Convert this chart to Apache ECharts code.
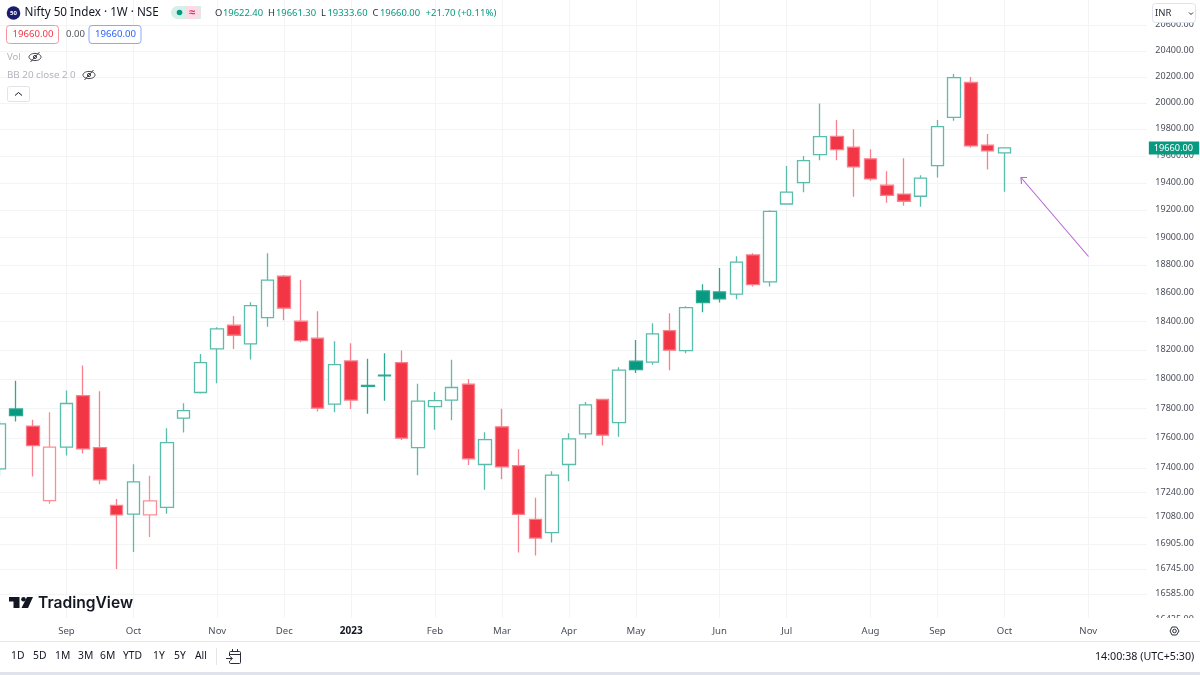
<!DOCTYPE html>
<html>
<head>
<meta charset="utf-8">
<style>html,body{margin:0;padding:0;background:#fff}#c{width:1200px;height:675px}</style>
<script src="https://cdn.jsdelivr.net/npm/echarts@6/dist/echarts.min.js"></script>
</head>
<body>
<div id="c"></div>
<script>
const weeks = ['2022-08-08','2022-08-15','2022-08-22','2022-08-29','2022-09-05','2022-09-12','2022-09-19','2022-09-26','2022-10-03','2022-10-10','2022-10-17','2022-10-24','2022-10-31','2022-11-07','2022-11-14','2022-11-21','2022-11-28','2022-12-05','2022-12-12','2022-12-19','2022-12-26','2023-01-02','2023-01-09','2023-01-16','2023-01-23','2023-01-30','2023-02-06','2023-02-13','2023-02-20','2023-02-27','2023-03-06','2023-03-13','2023-03-20','2023-03-27','2023-04-03','2023-04-10','2023-04-17','2023-04-24','2023-05-01','2023-05-08','2023-05-15','2023-05-22','2023-05-29','2023-06-05','2023-06-12','2023-06-19','2023-06-26','2023-07-03','2023-07-10','2023-07-17','2023-07-24','2023-07-31','2023-08-07','2023-08-14','2023-08-21','2023-08-28','2023-09-04','2023-09-11','2023-09-18','2023-09-25','2023-10-02','2023-10-09','2023-10-16','2023-10-23','2023-10-30','2023-11-06','2023-11-13','2023-11-20','2023-11-27'];
const opens  = [17396,17798,17682,17187,17541,17889,17538,17156,17099,17093,17143,17736,17910,18210,18375,18245,18428,18722,18403,18284,17831,18127,17958,18029,18115,17538,17814,17858,17967,17425,17677,17418,17064,16979,17425,17629,17862,17706,18125,18118,18337,18198,18617,18610,18594,18874,18681,19244,19401,19610,19747,19665,19578,19382,19317,19301,19528,19890,20156,19680,19622.4];
const closes = [17697,17753,17551,17541,17835,17529,17323,17093,17310,17185,17571,17787,18115,18349,18305,18513,18693,18495,18268,17803,18101,17858,17952,18024,17601,17851,17855,17944,17463,17591,17409,17097,16943,17355,17596,17825,17621,18063,18067,18314,18201,18499,18534,18560,18822,18662,19190,19331,19565,19745,19647,19518,19429,19308,19264,19434,19820,20194,19675,19637,19660];
const lows   = [17350,17713,17346,17167,17485,17498,17294,16744,16853,16950,17101,17639,17903,17973,18210,18136,18365,18410,18256,17780,17776,17797,17765,17853,17589,17353,17657,17722,17421,17258,17327,16851,16831,16915,17314,17598,17551,17611,18044,18101,18063,18180,18466,18534,18558,18648,18648,19239,19331,19568,19568,19298,19416,19254,19232,19224,19439,19865,19662,19498,19333.6];
const highs  = [17720,17991,17724,17776,17923,18095,17919,17198,17427,17351,17668,17837,18175,18361,18440,18537,18886,18731,18695,18473,18263,18249,18141,18179,18198,17969,17914,18134,18003,17641,17799,17527,17205,17381,17634,17845,17867,18083,18272,18389,18459,18509,18665,18781,18865,18886,19198,19524,19600,19995,19870,19800,19650,19486,19583,19456,19870,20222,20199,19765,19661.3];
const priceTicks = [20600,20400,20200,20000,19800,19600,19400,19200,19000,18800,18600,18400,18200,18000,17800,17600,17400,17240,17080,16905,16745,16585,16425];
const monthTicks = {'2022-09-05':'Sep','2022-10-03':'Oct','2022-11-07':'Nov','2022-12-05':'Dec','2023-01-02':'2023','2023-02-06':'Feb','2023-03-06':'Mar','2023-04-03':'Apr','2023-05-01':'May','2023-06-05':'Jun','2023-07-03':'Jul','2023-08-07':'Aug','2023-09-04':'Sep','2023-10-02':'Oct','2023-11-06':'Nov'};
const lastPrice = 19660;
const rangeButtons = [['1D',11],['5D',33],['1M',55],['3M',78],['6M',100],['YTD',123],['1Y',153],['5Y',174],['All',195]];

const FONT = '"Noto Sans", sans-serif';
const UP = '#089981', DOWN = '#f23645';
const candles = opens.map((o, i) => {
  const c = closes[i], prev = i ? closes[i - 1] : o;
  const green = c >= prev, hollow = c > o;
  const border = hollow ? (green ? '#5abcaa' : '#fc8d97') : (green ? '#2fa892' : '#f9808c');
  const fill = hollow ? '#ffffff' : (green ? UP : DOWN);
  return { value: [o, c, lows[i], highs[i]],
    itemStyle: { color: fill, color0: fill, borderColor: border, borderColor0: border, borderWidth: 1.3 } };
});

function T(text, x, y, size, color, extra) {
  return { type: 'text', z: 30, style: Object.assign({ text, x, y, fontSize: size, fontFamily: FONT, fill: color, textVerticalAlign: 'middle', verticalAlign: 'middle' }, extra || {}) };
}
function R(x, y, w, h, fill, stroke, r, z) {
  return { type: 'rect', z: z || 20, shape: { x, y, width: w, height: h, r: r || 0 }, style: { fill: fill, stroke: stroke || null, lineWidth: 1 } };
}
function L(x1, y1, x2, y2, color, w) {
  return { type: 'line', z: 30, shape: { x1, y1, x2, y2 }, style: { stroke: color, lineWidth: w || 1 } };
}
function P(points, color, w, fill) {
  return { type: fill ? 'polygon' : 'polyline', z: 30, shape: { points }, style: fill ? { fill: color } : { stroke: color, lineWidth: w || 1, fill: null } };
}
function eye(cx, cy) {
  return [
    { type: 'ellipse', z: 30, shape: { cx, cy, rx: 6, ry: 3.6 }, style: { stroke: '#3f424a', lineWidth: 1, fill: null } },
    { type: 'circle', z: 30, shape: { cx, cy, r: 1.6 }, style: { stroke: '#3f424a', lineWidth: 1, fill: null } },
    L(cx - 4.5, cy + 5, cx + 4.5, cy - 5, '#3f424a', 1)
  ];
}

const chrome = [
  R(0, 618, 1200, 24, '#ffffff', null, 0, 10),
  R(0, 642, 1200, 30, '#ffffff', null, 0, 10),
  L(0, 641.5, 1200, 641.5, '#e4e6ec', 1),
  R(0, 672, 1200, 3, '#e0e3eb', null, 0, 20),
  // header
  { type: 'circle', z: 30, shape: { cx: 13.5, cy: 13, r: 6.8 }, style: { fill: '#1b1b6f' } },
  T('50', 13.5, 13.2, 6, '#ffffff', { textAlign: 'center', align: 'center', fontWeight: 'bold' }),
  T('Nifty 50 Index · 1W · NSE', 24.5, 13, 11.7, '#131722'),
  R(171, 6, 30, 13, '#d5efe9', null, [6.5, 0, 0, 6.5]),
  R(186, 6, 15, 13, '#fbdce6', null, [0, 6.5, 6.5, 0]),
  { type: 'circle', z: 30, shape: { cx: 179.5, cy: 12.5, r: 2.8 }, style: { fill: UP } },
  T('≈', 189, 12.5, 11, '#e91e63', { fontWeight: 'bold' }),
  T('O', 215, 13, 9.4, '#2a2e39'), T('19622.40', 223, 13, 9.4, UP),
  T('H', 268, 13, 9.4, '#2a2e39'), T('19661.30', 276, 13, 9.4, UP),
  T('L', 321, 13, 9.4, '#2a2e39'), T('19333.60', 327.5, 13, 9.4, UP),
  T('C', 372.5, 13, 9.4, '#2a2e39'), T('19660.00', 380, 13, 9.4, UP),
  T('+21.70 (+0.11%)', 425.5, 13, 9.6, UP),
  R(6.5, 25.5, 52, 18, '#ffffff', '#f7959d', 3),
  T('19660.00', 12.5, 34.5, 9.6, DOWN),
  T('0.00', 66, 34.5, 9.5, '#50535e'),
  R(89, 25.5, 52, 18, '#ffffff', '#8aa6ff', 3),
  T('19660.00', 95, 34.5, 9.6, '#2962ff'),
  T('Vol', 7, 57, 9.5, '#b2b5be'),
  T('BB 20 close 2 0', 7, 75.5, 9.8, '#b2b5be'),
  ...eye(35, 57), ...eye(89, 75),
  R(7.5, 86.5, 22, 15, '#ffffff', '#e0e3eb', 2),
  P([[15, 95.5], [18.5, 92.5], [22, 95.5]], '#131722', 1),
  // currency box
  R(1152.5, 3.5, 43, 19, '#ffffff', '#dfe3f0', 3),
  T('INR', 1155, 13.5, 9.5, '#2a2e39'),
  P([[1189, 12.5], [1191, 14.5], [1193, 12.5]], '#2a2e39', 1),
  // arrow annotation
  L(1088.5, 256.5, 1021, 177.5, '#b866d4', 1.1),
  P([[1027, 177.5], [1021, 177.5], [1021.5, 184]], '#b866d4', 1.1),
  // logo
  P([[9, 597], [19.5, 597], [19.5, 608], [13.5, 608], [13.5, 601.5], [9, 601.5]], '#131722', 1, true),
  { type: 'circle', z: 30, shape: { cx: 23.5, cy: 599.3, r: 2.3 }, style: { fill: '#131722' } },
  P([[27, 597], [33, 597], [28, 608], [21.5, 608]], '#131722', 1, true),
  T('TradingView', 38, 603, 15.6, '#131722', { fontFamily: 'Inter, sans-serif', fontWeight: 600 }),
  // toolbar
  ...rangeButtons.map(b => T(b[0], b[1], 656.5, 10.3, '#131722')),
  L(216.5, 648, 216.5, 665, '#e4e6ec', 1),
  R(229.5, 651.5, 11, 12, null, '#2a2e39', 1),
  L(229.5, 654.5, 240.5, 654.5, '#2a2e39', 1),
  L(232.5, 649, 232.5, 652, '#2a2e39', 1),
  L(237.5, 649, 237.5, 652, '#2a2e39', 1),
  R(225, 656, 7, 5, '#ffffff', null, 0, 25),
  L(226, 658.5, 232, 658.5, '#2a2e39', 1),
  P([[230, 656.5], [232.5, 658.5], [230, 660.5]], '#2a2e39', 1),
  T('14:00:38 (UTC+5:30)', 1095, 656.5, 10.7, '#131722'),
  // gear
  P([[1170, 631], [1172, 627], [1176.5, 627], [1179, 631], [1176.5, 635], [1172, 635], [1170, 631]], '#2a2e39', 1),
  { type: 'circle', z: 30, shape: { cx: 1174.5, cy: 631, r: 1.8 }, style: { stroke: '#2a2e39', lineWidth: 1, fill: null } }
];

const chart = echarts.init(document.getElementById('c'), null, { renderer: 'canvas' });
chart.setOption({
  animation: false,
  backgroundColor: '#ffffff',
  grid: { left: -8.9, top: 0, width: 1155.75, height: 625, containLabel: false, outerBoundsMode: 'none' },
  xAxis: [
    { type: 'category', data: weeks, boundaryGap: true, z: 0,
      axisLine: { show: false }, axisTick: { show: false }, axisLabel: { show: false },
      splitLine: { show: true, alignWithLabel: true, interval: (i, v) => v in monthTicks, lineStyle: { color: '#f3f4f6', width: 1 } } },
    { type: 'category', data: weeks, boundaryGap: true, position: 'bottom', z: 20,
      axisLine: { show: false }, axisTick: { show: false }, splitLine: { show: false },
      axisLabel: { show: true, interval: 0, margin: 1.5, hideOverlap: false, fontSize: 9.6, fontFamily: FONT, color: '#4a4e58',
        formatter: v => { const t = monthTicks[v] || ''; return t === '2023' ? '{b|' + t + '}' : t; },
        rich: { b: { fontWeight: 'bold', fontSize: 10, fontFamily: FONT, color: '#131722' } } } }
  ],
  yAxis: { type: 'log', logBase: 10, min: 16391, max: 20800, position: 'right', z: 0,
    axisLine: { show: false },
    axisTick: { show: false, customValues: priceTicks },
    axisLabel: { show: true, customValues: priceTicks, inside: false, margin: 8.5, verticalAlign: 'top', padding: [-5, 0, 0, 0], fontSize: 9, fontFamily: FONT, color: '#4a4e58', showMinLabel: true, showMaxLabel: true,
      formatter: v => Number(v).toFixed(2) },
    splitLine: { show: true, lineStyle: { color: '#f3f4f6', width: 1 } },
    minorSplitLine: { show: false } },
  series: [{
    type: 'candlestick', xAxisIndex: 0, yAxisIndex: 0, z: 2, barWidth: 13, data: candles,
    markLine: { silent: true, symbol: 'none', animation: false, lineStyle: { color: 'rgba(0,0,0,0)', width: 0, opacity: 1 },
      data: [{ yAxis: lastPrice }],
      label: { show: true, position: 'end', distance: 2, formatter: lastPrice.toFixed(2), color: '#ffffff', backgroundColor: UP, padding: [2, 6, 2, 5], fontSize: 9.2, fontFamily: FONT, opacity: 1 } }
  }],
  graphic: { elements: chrome }
});
</script>
</body>
</html>
